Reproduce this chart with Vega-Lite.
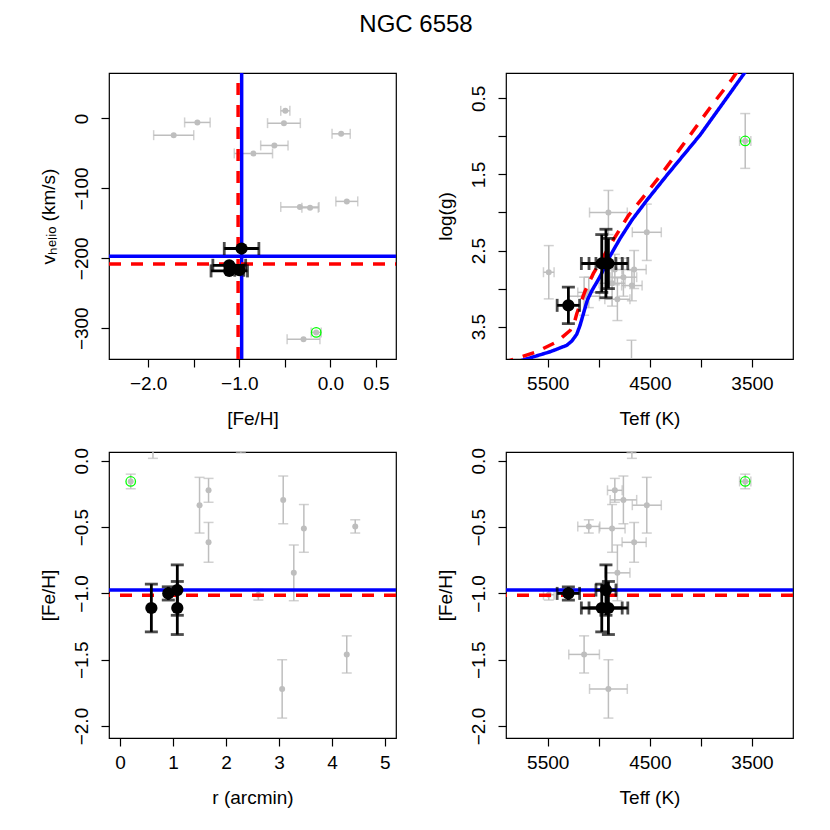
{
"$schema":"https://vega.github.io/schema/vega-lite/v6.json",
"autosize":{"type":"none"},
"padding":{"left":109,"top":73,"right":721,"bottom":757},
"title":{"text":"NGC 6558","anchor":"middle","baseline":"alphabetic","offset":16,"fontSize":24,"font":"Liberation Sans","fontWeight":"normal","color":"black"},
"datasets":{
"stars":[
{"id":"S1","grp":"non","green":true,"fe":-0.156,"fe_err":0.055,"v":-306,"r":0.20,"teff":3566,"teff_err":55,"logg":1.06,"logg_err":0.36},
{"id":"S2","grp":"non","green":false,"fe":-0.335,"fe_err":0.21,"v":-126.5,"r":1.50,"teff":4530,"teff_err":142,"logg":2.26,"logg_err":0.37},
{"id":"S3","grp":"non","green":false,"fe":-0.223,"fe_err":0.09,"v":-127.7,"r":1.67,"teff":4843,"teff_err":72,"logg":2.75,"logg_err":0.2},
{"id":"S4","grp":"non","green":false,"fe":-0.615,"fe_err":0.15,"v":-38.6,"r":1.67,"teff":4654,"teff_err":118,"logg":2.75,"logg_err":0.25},
{"id":"S5","grp":"non","green":false,"fe":-0.295,"fe_err":0.18,"v":-315.7,"r":3.08,"teff":4759,"teff_err":130,"logg":2.85,"logg_err":0.25},
{"id":"S6","grp":"non","green":false,"fe":-0.51,"fe_err":0.18,"v":-6.7,"r":3.47,"teff":4870,"teff_err":127,"logg":2.93,"logg_err":0.3},
{"id":"S7","grp":"non","green":false,"fe":-0.845,"fe_err":0.21,"v":-50,"r":3.28,"teff":4818,"teff_err":123,"logg":3.14,"logg_err":0.28},
{"id":"S8","grp":"non","green":false,"fe":-0.495,"fe_err":0.05,"v":10.9,"r":4.44,"teff":5098,"teff_err":108,"logg":3.05,"logg_err":0.2},
{"id":"S9","grp":"non","green":false,"fe":-1.01,"fe_err":0.04,"v":-214,"r":2.61,"teff":5490,"teff_err":52,"logg":2.785,"logg_err":0.35},
{"id":"S10","grp":"non","green":false,"fe":-1.72,"fe_err":0.22,"v":-23.9,"r":3.06,"teff":4906,"teff_err":185,"logg":2.0,"logg_err":0.29},
{"id":"S11","grp":"non","green":false,"fe":-1.46,"fe_err":0.14,"v":-5.7,"r":4.28,"teff":5144,"teff_err":150,"logg":3.1,"logg_err":0.25},
{"id":"S12","grp":"non","green":false,"fe":0.118,"fe_err":0.10,"v":-22,"r":0.62,"teff":4676,"teff_err":100,"logg":2.96,"logg_err":0.2},
{"id":"S13","grp":"non","green":false,"fe":0.18,"fe_err":0.12,"v":-118.6,"r":2.28,"teff":4680,"teff_err":100,"logg":4.0,"logg_err":0.32},
{"id":"M1","grp":"mem","green":false,"fe":-1.0,"fe_err":0.05,"v":-217,"r":0.91,"teff":5298,"teff_err":110,"logg":3.22,"logg_err":0.24},
{"id":"M2","grp":"mem","green":false,"fe":-0.975,"fe_err":0.19,"v":-186,"r":1.08,"teff":4930,"teff_err":98,"logg":2.67,"logg_err":0.45},
{"id":"M3","grp":"mem","green":false,"fe":-1.11,"fe_err":0.18,"v":-210,"r":0.59,"teff":4971,"teff_err":200,"logg":2.67,"logg_err":0.38},
{"id":"M4","grp":"mem","green":false,"fe":-1.11,"fe_err":0.2,"v":-218,"r":1.08,"teff":4906,"teff_err":190,"logg":2.67,"logg_err":0.33}
],
"ref":[{"src":"blue","fe":-0.974,"v":-197},{"src":"red","fe":-1.013,"v":-208}],
"iso":[
{"src":"blue","i":1,"teff":5850,"logg":3.98},{"src":"blue","i":2,"teff":5722,"logg":3.93},{"src":"blue","i":3,"teff":5477,"logg":3.83},{"src":"blue","i":4,"teff":5380,"logg":3.78},{"src":"blue","i":5,"teff":5314,"logg":3.745},{"src":"blue","i":6,"teff":5265,"logg":3.69},{"src":"blue","i":7,"teff":5216,"logg":3.6},{"src":"blue","i":8,"teff":5183,"logg":3.48},{"src":"blue","i":9,"teff":5151,"logg":3.33},{"src":"blue","i":10,"teff":5112,"logg":3.15},{"src":"blue","i":11,"teff":5069,"logg":3.03},{"src":"blue","i":12,"teff":4987,"logg":2.84},{"src":"blue","i":13,"teff":4889,"logg":2.57},{"src":"blue","i":14,"teff":4791,"logg":2.34},{"src":"blue","i":15,"teff":4676,"logg":2.1},{"src":"blue","i":16,"teff":4530,"logg":1.84},{"src":"blue","i":17,"teff":4333,"logg":1.51},{"src":"blue","i":18,"teff":4007,"logg":0.98},{"src":"blue","i":19,"teff":3713,"logg":0.43},{"src":"blue","i":20,"teff":3573,"logg":0.167},{"src":"blue","i":21,"teff":3520,"logg":0.07},
{"src":"red","i":1,"teff":5950,"logg":3.98},{"src":"red","i":2,"teff":5837,"logg":3.93},{"src":"red","i":3,"teff":5608,"logg":3.83},{"src":"red","i":4,"teff":5412,"logg":3.7},{"src":"red","i":5,"teff":5281,"logg":3.55},{"src":"red","i":6,"teff":5240,"logg":3.45},{"src":"red","i":7,"teff":5216,"logg":3.33},{"src":"red","i":8,"teff":5175,"logg":3.18},{"src":"red","i":9,"teff":5134,"logg":3.03},{"src":"red","i":10,"teff":5053,"logg":2.8},{"src":"red","i":11,"teff":4955,"logg":2.58},{"src":"red","i":12,"teff":4840,"logg":2.32},{"src":"red","i":13,"teff":4710,"logg":2.04},{"src":"red","i":14,"teff":4578,"logg":1.82},{"src":"red","i":15,"teff":4400,"logg":1.52},{"src":"red","i":16,"teff":4137,"logg":1.04},{"src":"red","i":17,"teff":3876,"logg":0.56},{"src":"red","i":18,"teff":3696,"logg":0.25},{"src":"red","i":19,"teff":3620,"logg":0.1}
]
},
"columns":2,
"spacing":{"row":93,"column":110},
"bounds":"flush",
"concat":[
{
"width":287,"height":286,
"encoding":{
 "x":{"field":"fe","type":"quantitative","scale":{"domain":[-2.43,0.72],"nice":false,"zero":false},"axis":{"title":"[Fe/H]","values":[-2,-1.5,-1,-0.5,0,0.5],"labelExpr":"datum.value==-1.5||datum.value==-0.5?'':format(datum.value,'.1f')"}},
 "y":{"field":"v","type":"quantitative","scale":{"domain":[-344,65],"nice":false,"zero":false},"axis":{"title":"vₕₑₗᵢₒ (km/s)","values":[-300,-200,-100,0],"format":"d"}}
},
"layer":[
{"data":{"name":"stars"},"transform":[{"filter":"datum.grp=='non'"}],
 "mark":{"type":"errorbar","clip":true,"color":"#BEBEBE","thickness":1.5,"ticks":{"size":10}},
 "encoding":{"xError":{"field":"fe_err"}}},
{"data":{"name":"stars"},"transform":[{"filter":"datum.grp=='non'"}],
 "mark":{"type":"point","shape":"circle","filled":true,"color":"#BEBEBE","opacity":1,"size":36,"clip":true}},
{"data":{"name":"stars"},"transform":[{"filter":"datum.green"}],
 "mark":{"type":"point","shape":"circle","filled":false,"color":"#00FF00","strokeWidth":1.3,"opacity":1,"size":90,"clip":true}},
{"data":{"name":"ref"},
 "mark":{"type":"rule","strokeWidth":3.5,"clip":true},
 "encoding":{"y":{"datum":-344},"y2":{"datum":65},
  "color":{"field":"src","type":"nominal","scale":{"domain":["blue","red"],"range":["#0000FF","#FF0000"]},"legend":null},
  "strokeDash":{"field":"src","type":"nominal","scale":{"domain":["blue","red"],"range":[[1,0],[12,10]]},"legend":null}}},
{"data":{"name":"ref"},
 "mark":{"type":"rule","strokeWidth":3.5,"clip":true},
 "encoding":{"x":{"datum":-2.43},"x2":{"datum":0.72},
  "color":{"field":"src","type":"nominal","scale":{"domain":["blue","red"],"range":["#0000FF","#FF0000"]},"legend":null},
  "strokeDash":{"field":"src","type":"nominal","scale":{"domain":["blue","red"],"range":[[1,0],[12,10]]},"legend":null}}},
{"data":{"name":"stars"},"transform":[{"filter":"datum.grp=='mem'"}],
 "mark":{"type":"errorbar","clip":true,"color":"black","thickness":2.8,"ticks":{"size":13}},
 "encoding":{"xError":{"field":"fe_err"}}},
{"data":{"name":"stars"},"transform":[{"filter":"datum.grp=='mem'"}],
 "mark":{"type":"point","shape":"circle","filled":true,"color":"black","opacity":1,"size":150,"clip":true}}
]
},
{
"width":287,"height":286,
"encoding":{
 "x":{"field":"teff","type":"quantitative","scale":{"domain":[3098,5909],"reverse":true,"nice":false,"zero":false},"axis":{"title":"Teff (K)","values":[5500,5000,4500,4000,3500],"labelExpr":"datum.value%1000==500?format(datum.value,'d'):''"}},
 "y":{"field":"logg","type":"quantitative","scale":{"domain":[0.167,3.925],"reverse":true,"nice":false,"zero":false},"axis":{"title":"log(g)","values":[0.5,1,1.5,2,2.5,3,3.5],"labelExpr":"datum.value%1==0.5?format(datum.value,'.1f'):''"}}
},
"layer":[
{"data":{"name":"stars"},"transform":[{"filter":"datum.grp=='non'"}],
 "mark":{"type":"errorbar","clip":true,"color":"#BEBEBE","thickness":1.5,"ticks":{"size":10}},
 "encoding":{"xError":{"field":"teff_err"}}},
{"data":{"name":"stars"},"transform":[{"filter":"datum.grp=='non'"}],
 "mark":{"type":"errorbar","clip":true,"color":"#BEBEBE","thickness":1.5,"ticks":{"size":10}},
 "encoding":{"yError":{"field":"logg_err"}}},
{"data":{"name":"stars"},"transform":[{"filter":"datum.grp=='non'"}],
 "mark":{"type":"point","shape":"circle","filled":true,"color":"#BEBEBE","opacity":1,"size":36,"clip":true}},
{"data":{"name":"stars"},"transform":[{"filter":"datum.green"}],
 "mark":{"type":"point","shape":"circle","filled":false,"color":"#00FF00","strokeWidth":1.3,"opacity":1,"size":90,"clip":true}},
{"data":{"name":"iso"},
 "mark":{"type":"line","strokeWidth":3.5,"clip":true},
 "encoding":{"order":{"field":"i","type":"quantitative"},
  "color":{"field":"src","type":"nominal","scale":{"domain":["blue","red"],"range":["#0000FF","#FF0000"]},"legend":null},
  "strokeDash":{"field":"src","type":"nominal","scale":{"domain":["blue","red"],"range":[[1,0],[12,10]]},"legend":null}}},
{"data":{"name":"stars"},"transform":[{"filter":"datum.grp=='mem'"}],
 "mark":{"type":"errorbar","clip":true,"color":"black","thickness":2.8,"ticks":{"size":13}},
 "encoding":{"xError":{"field":"teff_err"}}},
{"data":{"name":"stars"},"transform":[{"filter":"datum.grp=='mem'"}],
 "mark":{"type":"errorbar","clip":true,"color":"black","thickness":2.8,"ticks":{"size":13}},
 "encoding":{"yError":{"field":"logg_err"}}},
{"data":{"name":"stars"},"transform":[{"filter":"datum.grp=='mem'"}],
 "mark":{"type":"point","shape":"circle","filled":true,"color":"black","opacity":1,"size":150,"clip":true}}
]
},
{
"width":287,"height":286,
"layer":[
{"data":{"name":"stars"},"transform":[{"filter":"datum.grp=='non'"}],
 "mark":{"type":"errorbar","clip":true,"color":"#BEBEBE","thickness":1.5,"ticks":{"size":10}},
 "encoding":{
  "x":{"field":"r","type":"quantitative","scale":{"domain":[-0.21,5.21],"nice":false,"zero":false},"axis":{"title":"r (arcmin)","values":[0,1,2,3,4,5],"format":"d"}},
  "y":{"field":"fe","type":"quantitative","scale":{"domain":[-2.09,0.066],"nice":false,"zero":false},"axis":{"title":"[Fe/H]","values":[0,-0.5,-1,-1.5,-2],"format":".1f"}},
  "yError":{"field":"fe_err"}}},
{"data":{"name":"stars"},"transform":[{"filter":"datum.grp=='non'"}],
 "mark":{"type":"point","shape":"circle","filled":true,"color":"#BEBEBE","opacity":1,"size":36,"clip":true},
 "encoding":{
  "x":{"field":"r","type":"quantitative","scale":{"domain":[-0.21,5.21],"nice":false,"zero":false},"axis":{"title":"r (arcmin)","values":[0,1,2,3,4,5],"format":"d"}},
  "y":{"field":"fe","type":"quantitative","scale":{"domain":[-2.09,0.066],"nice":false,"zero":false},"axis":{"title":"[Fe/H]","values":[0,-0.5,-1,-1.5,-2],"format":".1f"}}}},
{"data":{"name":"stars"},"transform":[{"filter":"datum.green"}],
 "mark":{"type":"point","shape":"circle","filled":false,"color":"#00FF00","strokeWidth":1.3,"opacity":1,"size":90,"clip":true},
 "encoding":{
  "x":{"field":"r","type":"quantitative","scale":{"domain":[-0.21,5.21],"nice":false,"zero":false},"axis":{"title":"r (arcmin)","values":[0,1,2,3,4,5],"format":"d"}},
  "y":{"field":"fe","type":"quantitative","scale":{"domain":[-2.09,0.066],"nice":false,"zero":false},"axis":{"title":"[Fe/H]","values":[0,-0.5,-1,-1.5,-2],"format":".1f"}}}},
{"data":{"name":"ref"},
 "mark":{"type":"rule","strokeWidth":3.5,"clip":true},
 "encoding":{
  "y":{"field":"fe","type":"quantitative","scale":{"domain":[-2.09,0.066],"nice":false,"zero":false},"axis":{"title":"[Fe/H]","values":[0,-0.5,-1,-1.5,-2],"format":".1f"}},
  "color":{"field":"src","type":"nominal","scale":{"domain":["blue","red"],"range":["#0000FF","#FF0000"]},"legend":null},
  "strokeDash":{"field":"src","type":"nominal","scale":{"domain":["blue","red"],"range":[[1,0],[12,10]]},"legend":null}}},
{"data":{"name":"stars"},"transform":[{"filter":"datum.grp=='mem'"}],
 "mark":{"type":"errorbar","clip":true,"color":"black","thickness":2.8,"ticks":{"size":13}},
 "encoding":{
  "x":{"field":"r","type":"quantitative","scale":{"domain":[-0.21,5.21],"nice":false,"zero":false},"axis":{"title":"r (arcmin)","values":[0,1,2,3,4,5],"format":"d"}},
  "y":{"field":"fe","type":"quantitative","scale":{"domain":[-2.09,0.066],"nice":false,"zero":false},"axis":{"title":"[Fe/H]","values":[0,-0.5,-1,-1.5,-2],"format":".1f"}},
  "yError":{"field":"fe_err"}}},
{"data":{"name":"stars"},"transform":[{"filter":"datum.grp=='mem'"}],
 "mark":{"type":"point","shape":"circle","filled":true,"color":"black","opacity":1,"size":150,"clip":true},
 "encoding":{
  "x":{"field":"r","type":"quantitative","scale":{"domain":[-0.21,5.21],"nice":false,"zero":false},"axis":{"title":"r (arcmin)","values":[0,1,2,3,4,5],"format":"d"}},
  "y":{"field":"fe","type":"quantitative","scale":{"domain":[-2.09,0.066],"nice":false,"zero":false},"axis":{"title":"[Fe/H]","values":[0,-0.5,-1,-1.5,-2],"format":".1f"}}}}
]
},
{
"width":287,"height":286,
"layer":[
{"data":{"name":"stars"},"transform":[{"filter":"datum.grp=='non'"}],
 "mark":{"type":"errorbar","clip":true,"color":"#BEBEBE","thickness":1.5,"ticks":{"size":10}},
 "encoding":{
  "x":{"field":"teff","type":"quantitative","scale":{"domain":[3098,5909],"reverse":true,"nice":false,"zero":false},"axis":{"title":"Teff (K)","values":[5500,5000,4500,4000,3500],"labelExpr":"datum.value%1000==500?format(datum.value,'d'):''"}},
  "y":{"field":"fe","type":"quantitative","scale":{"domain":[-2.09,0.066],"nice":false,"zero":false},"axis":{"title":"[Fe/H]","values":[0,-0.5,-1,-1.5,-2],"format":".1f"}},
  "xError":{"field":"teff_err"}}},
{"data":{"name":"stars"},"transform":[{"filter":"datum.grp=='non'"}],
 "mark":{"type":"errorbar","clip":true,"color":"#BEBEBE","thickness":1.5,"ticks":{"size":10}},
 "encoding":{
  "x":{"field":"teff","type":"quantitative","scale":{"domain":[3098,5909],"reverse":true,"nice":false,"zero":false},"axis":{"title":"Teff (K)","values":[5500,5000,4500,4000,3500],"labelExpr":"datum.value%1000==500?format(datum.value,'d'):''"}},
  "y":{"field":"fe","type":"quantitative","scale":{"domain":[-2.09,0.066],"nice":false,"zero":false},"axis":{"title":"[Fe/H]","values":[0,-0.5,-1,-1.5,-2],"format":".1f"}},
  "yError":{"field":"fe_err"}}},
{"data":{"name":"stars"},"transform":[{"filter":"datum.grp=='non'"}],
 "mark":{"type":"point","shape":"circle","filled":true,"color":"#BEBEBE","opacity":1,"size":36,"clip":true},
 "encoding":{
  "x":{"field":"teff","type":"quantitative","scale":{"domain":[3098,5909],"reverse":true,"nice":false,"zero":false},"axis":{"title":"Teff (K)","values":[5500,5000,4500,4000,3500],"labelExpr":"datum.value%1000==500?format(datum.value,'d'):''"}},
  "y":{"field":"fe","type":"quantitative","scale":{"domain":[-2.09,0.066],"nice":false,"zero":false},"axis":{"title":"[Fe/H]","values":[0,-0.5,-1,-1.5,-2],"format":".1f"}}}},
{"data":{"name":"stars"},"transform":[{"filter":"datum.green"}],
 "mark":{"type":"point","shape":"circle","filled":false,"color":"#00FF00","strokeWidth":1.3,"opacity":1,"size":90,"clip":true},
 "encoding":{
  "x":{"field":"teff","type":"quantitative","scale":{"domain":[3098,5909],"reverse":true,"nice":false,"zero":false},"axis":{"title":"Teff (K)","values":[5500,5000,4500,4000,3500],"labelExpr":"datum.value%1000==500?format(datum.value,'d'):''"}},
  "y":{"field":"fe","type":"quantitative","scale":{"domain":[-2.09,0.066],"nice":false,"zero":false},"axis":{"title":"[Fe/H]","values":[0,-0.5,-1,-1.5,-2],"format":".1f"}}}},
{"data":{"name":"ref"},
 "mark":{"type":"rule","strokeWidth":3.5,"clip":true},
 "encoding":{
  "y":{"field":"fe","type":"quantitative","scale":{"domain":[-2.09,0.066],"nice":false,"zero":false},"axis":{"title":"[Fe/H]","values":[0,-0.5,-1,-1.5,-2],"format":".1f"}},
  "color":{"field":"src","type":"nominal","scale":{"domain":["blue","red"],"range":["#0000FF","#FF0000"]},"legend":null},
  "strokeDash":{"field":"src","type":"nominal","scale":{"domain":["blue","red"],"range":[[1,0],[12,10]]},"legend":null}}},
{"data":{"name":"stars"},"transform":[{"filter":"datum.grp=='mem'"}],
 "mark":{"type":"errorbar","clip":true,"color":"black","thickness":2.8,"ticks":{"size":13}},
 "encoding":{
  "x":{"field":"teff","type":"quantitative","scale":{"domain":[3098,5909],"reverse":true,"nice":false,"zero":false},"axis":{"title":"Teff (K)","values":[5500,5000,4500,4000,3500],"labelExpr":"datum.value%1000==500?format(datum.value,'d'):''"}},
  "y":{"field":"fe","type":"quantitative","scale":{"domain":[-2.09,0.066],"nice":false,"zero":false},"axis":{"title":"[Fe/H]","values":[0,-0.5,-1,-1.5,-2],"format":".1f"}},
  "xError":{"field":"teff_err"}}},
{"data":{"name":"stars"},"transform":[{"filter":"datum.grp=='mem'"}],
 "mark":{"type":"errorbar","clip":true,"color":"black","thickness":2.8,"ticks":{"size":13}},
 "encoding":{
  "x":{"field":"teff","type":"quantitative","scale":{"domain":[3098,5909],"reverse":true,"nice":false,"zero":false},"axis":{"title":"Teff (K)","values":[5500,5000,4500,4000,3500],"labelExpr":"datum.value%1000==500?format(datum.value,'d'):''"}},
  "y":{"field":"fe","type":"quantitative","scale":{"domain":[-2.09,0.066],"nice":false,"zero":false},"axis":{"title":"[Fe/H]","values":[0,-0.5,-1,-1.5,-2],"format":".1f"}},
  "yError":{"field":"fe_err"}}},
{"data":{"name":"stars"},"transform":[{"filter":"datum.grp=='mem'"}],
 "mark":{"type":"point","shape":"circle","filled":true,"color":"black","opacity":1,"size":150,"clip":true},
 "encoding":{
  "x":{"field":"teff","type":"quantitative","scale":{"domain":[3098,5909],"reverse":true,"nice":false,"zero":false},"axis":{"title":"Teff (K)","values":[5500,5000,4500,4000,3500],"labelExpr":"datum.value%1000==500?format(datum.value,'d'):''"}},
  "y":{"field":"fe","type":"quantitative","scale":{"domain":[-2.09,0.066],"nice":false,"zero":false},"axis":{"title":"[Fe/H]","values":[0,-0.5,-1,-1.5,-2],"format":".1f"}}}}
]
}
],
"config":{
 "font":"Liberation Sans",
 "view":{"stroke":"black","strokeWidth":1.2},
 "axis":{"grid":false,"domain":false,"ticks":true,"tickColor":"black","tickWidth":1.2,"tickSize":8,"labelFont":"Liberation Sans","labelFontSize":19,"labelColor":"black","labelPadding":7,"labelOverlap":false,"labelFlush":false,"titleFont":"Liberation Sans","titleFontSize":19,"titleFontWeight":"normal","titleColor":"black","titlePadding":16},
 "axisY":{"labelAngle":-90,"labelAlign":"center","labelBaseline":"bottom","labelPadding":10,"titlePadding":14}
}
}
